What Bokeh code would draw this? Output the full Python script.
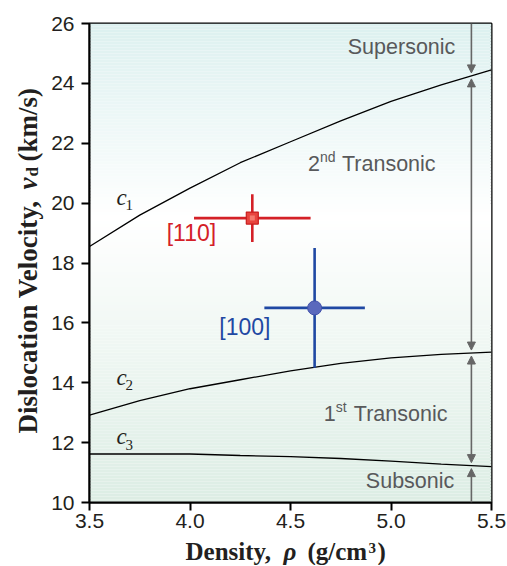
import numpy as np
from bokeh.plotting import figure
from bokeh.models import Label, Arrow, NormalHead, FixedTicker
from bokeh.layouts import row, column
from bokeh.embed import file_html
from bokeh.resources import INLINE

# ---------------- data ----------------
rho = [3.5, 3.75, 4.0, 4.25, 4.5, 4.75, 5.0, 5.25, 5.5]
c1 = [18.55, 19.6, 20.5, 21.35, 22.05, 22.75, 23.4, 23.95, 24.45]
c2 = [12.92, 13.4, 13.8, 14.1, 14.4, 14.65, 14.83, 14.95, 15.02]
c3 = [11.62, 11.62, 11.62, 11.57, 11.53, 11.47, 11.38, 11.28, 11.2]

pt_110 = dict(x=4.31, y=19.5, xerr=0.29, yerr=0.8)
pt_100 = dict(x=4.62, y=16.5, xerr=0.25, yerr=2.0)

x_ticks = [3.5, 4.0, 4.5, 5.0, 5.5]
x_tick_labels = ["3.5", "4.0", "4.5", "5.0", "5.5"]
y_ticks = [10, 12, 14, 16, 18, 20, 22, 24, 26]
y_tick_labels = ["10", "12", "14", "16", "18", "20", "22", "24", "26"]

arrow_x = 5.4

# ---------------- layout sizes ----------------
YW = 48          # width of the strip holding the y title
PW, PH = 458, 537
XH = 28          # height of the strip holding the x title

p = figure(width=PW, height=PH, x_range=(3.5, 5.5), y_range=(10, 26),
           output_backend="svg", toolbar_location=None,
           min_border_left=88 - YW, min_border_right=15, min_border_top=23,
           min_border_bottom=PH - 502)
p.outline_line_color = "black"
p.outline_line_width = 2
p.grid.visible = False
p.background_fill_color = "white"
p.border_fill_color = "white"

# background gradient (teal top -> white -> green bottom)
top_c = np.array([220, 240, 239])
white_c = np.array([255, 255, 255])
bot_c = np.array([220, 237, 228])
edges = np.linspace(10, 26, 161)
bl, bt, cols = [], [], []
for a, b in zip(edges[:-1], edges[1:]):
    m = 0.5 * (a + b)
    if m >= 19.5:
        t = (m - 19.5) / (26 - 19.5)
        c = white_c + (top_c - white_c) * t
    else:
        t = (19.5 - m) / (19.5 - 10)
        c = white_c + (bot_c - white_c) * t
    bl.append(a)
    bt.append(b)
    cols.append("#%02x%02x%02x" % tuple(int(round(v)) for v in c))
p.quad(left=3.5, right=5.5, bottom=bl, top=bt, fill_color=cols, line_color=None)

# curves
for cv in (c1, c2, c3):
    p.line(rho, cv, line_color="black", line_width=1.3)

# error bars + markers
red = "#d42027"
blue = "#1f48a3"
for pt, col in ((pt_110, red), (pt_100, blue)):
    p.segment(x0=[pt["x"] - pt["xerr"]], y0=[pt["y"]], x1=[pt["x"] + pt["xerr"]], y1=[pt["y"]],
              line_color=col, line_width=2.6)
    p.segment(x0=[pt["x"]], y0=[pt["y"] - pt["yerr"]], x1=[pt["x"]], y1=[pt["y"] + pt["yerr"]],
              line_color=col, line_width=2.6)
p.scatter([pt_110["x"]], [pt_110["y"]], marker="square", size=12,
          fill_color="#e8443e", line_color="#c81e1e", line_width=1.2)
p.scatter([pt_110["x"]], [pt_110["y"]], marker="square", size=5,
          fill_color="#f47a6e", line_color=None)
p.scatter([pt_100["x"]], [pt_100["y"]], marker="circle", size=14,
          fill_color="#5a69bd", line_color="#4050aa", line_width=1)

# arrows
gray = "#666666"
c1a = float(np.interp(arrow_x, rho, c1))
c2a = float(np.interp(arrow_x, rho, c2))
c3a = float(np.interp(arrow_x, rho, c3))
def head():
    return NormalHead(size=8, fill_color=gray, line_color=gray, line_width=1)
p.add_layout(Arrow(x_start=arrow_x, y_start=26, x_end=arrow_x, y_end=c1a + 0.1,
                   end=head(), line_color=gray, line_width=1.6))
p.add_layout(Arrow(x_start=arrow_x, y_start=c1a - 0.1, x_end=arrow_x, y_end=c2a + 0.1,
                   start=head(), end=head(), line_color=gray, line_width=1.6))
p.add_layout(Arrow(x_start=arrow_x, y_start=c2a - 0.1, x_end=arrow_x, y_end=c3a + 0.1,
                   start=head(), end=head(), line_color=gray, line_width=1.6))
p.add_layout(Arrow(x_start=arrow_x, y_start=10, x_end=arrow_x, y_end=c3a - 0.1,
                   end=head(), line_color=gray, line_width=1.6))

# axes
for ax, ticks, labs in ((p.xaxis, x_ticks, x_tick_labels), (p.yaxis, y_ticks, y_tick_labels)):
    ax.ticker = FixedTicker(ticks=ticks)
    ax.major_label_overrides = {t: l for t, l in zip(ticks, labs)}
    ax.axis_line_width = 2
    ax.axis_line_color = "black"
    ax.major_tick_line_width = 2
    ax.major_tick_out = 8
    ax.major_tick_in = 0
    ax.minor_tick_out = 0
    ax.minor_tick_in = 0
    ax.major_label_text_font = "Liberation Sans"
    ax.major_label_text_font_size = "21px"
    ax.major_label_text_color = "#231f20"
p.yaxis.major_label_standoff = 7
p.xaxis.major_label_standoff = 3

def lab(fig, x, y, text, size, font="Liberation Sans", style="normal", color="#555555",
        align="left", xo=0, yo=0, angle=0, units="data"):
    fig.add_layout(Label(x=x, y=y, text=text, text_font=font, text_font_size=f"{size}px",
                         text_font_style=style, text_color=color, text_align=align,
                         text_baseline="middle", x_offset=xo, y_offset=yo, angle=angle,
                         x_units=units, y_units=units))

# region labels
tc = "#58595b"
lab(p, 5.32, 25.23, "Supersonic", 21.5, color=tc, align="right")
lab(p, 5.315, 10.72, "Subsonic", 21.5, color=tc, align="right")
# 2nd Transonic
lab(p, 4.587, 21.32, "2", 21.5, color=tc)
lab(p, 4.587, 21.32, "nd", 14, color=tc, xo=12, yo=7)
lab(p, 4.587, 21.32, "Transonic", 21.5, color=tc, xo=34)
# 1st Transonic
lab(p, 4.666, 12.96, "1", 21.5, color=tc)
lab(p, 4.666, 12.96, "st", 14, color=tc, xo=12, yo=7)
lab(p, 4.666, 12.96, "Transonic", 21.5, color=tc, xo=30)

# c labels
for yv, sub in ((20.2, "1"), (14.18, "2"), (12.2, "3")):
    lab(p, 3.634, yv, "c", 23, font="Liberation Serif", style="italic", color="#231f20")
    lab(p, 3.634, yv, sub, 15, font="Liberation Serif", color="#231f20", xo=9, yo=-8)

# point labels
lab(p, 4.13, 19.0, "[110]", 23, color=red, align="right")
lab(p, 4.40, 15.87, "[100]", 23, color=blue, align="right")

# ---------------- axis titles in their own strips ----------------
ax_c = "#231f20"
serif = "Liberation Serif"

def strip(w, h):
    f = figure(width=w, height=h, x_range=(0, 1), y_range=(0, 1),
               output_backend="svg", toolbar_location=None,
               x_axis_location=None, y_axis_location=None, min_border=0)
    f.outline_line_color = None
    f.grid.visible = False
    f.background_fill_color = "white"
    f.border_fill_color = "white"
    return f

yfig = strip(YW, PH)
yx, yy = 27, 433
lab(yfig, yx, yy, "Dislocation Velocity,", 27, font=serif, style="bold", color=ax_c,
    angle=np.pi / 2, units="canvas")
lab(yfig, yx, yy - 244, "v", 27, font=serif, style="bold italic", color=ax_c,
    angle=np.pi / 2, units="canvas")
lab(yfig, yx + 5, yy - 257, "d", 17, font=serif, style="bold", color=ax_c,
    angle=np.pi / 2, units="canvas")
lab(yfig, yx, yy - 272, "(km/s)", 27, font=serif, style="bold", color=ax_c,
    angle=np.pi / 2, units="canvas")

xfig = strip(YW + PW, XH)
xb, xc = 185, 551 - PH
lab(xfig, xb, xc, "Density,", 25, font=serif, style="bold", color=ax_c, units="canvas")
lab(xfig, xb + 98, xc, "\u03c1", 25, font=serif, style="bold italic", color=ax_c, units="canvas")
lab(xfig, xb + 122, xc, "(g/cm", 25, font=serif, style="bold", color=ax_c, units="canvas")
lab(xfig, xb + 183, xc - 4, "3", 15, font=serif, style="bold", color=ax_c, units="canvas")
lab(xfig, xb + 192, xc, ")", 25, font=serif, style="bold", color=ax_c, units="canvas")

layout = column(row(yfig, p, spacing=0), xfig, spacing=0)
open("out.html", "w").write(file_html(layout, INLINE))
